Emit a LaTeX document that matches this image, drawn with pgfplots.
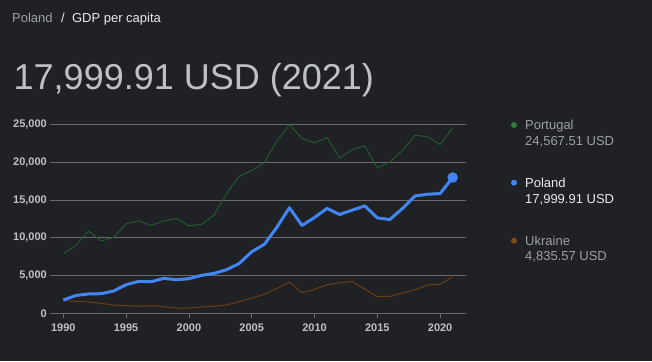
\documentclass[border=0pt]{standalone}
\usepackage{pgfplots}
\pgfplotsset{compat=1.18}
\usepackage{fontspec}
\setmainfont{Liberation Sans}
\definecolor{bg}{HTML}{202124}
\definecolor{gridc}{HTML}{6A6B6E}
\definecolor{tickc}{HTML}{BDC1C6}
\definecolor{dimtxt}{HTML}{9AA0A6}
\definecolor{brighttxt}{HTML}{E8EAED}
\definecolor{ptline}{HTML}{1F5A30}
\definecolor{ptdot}{HTML}{2E7D3F}
\definecolor{plline}{HTML}{4285F4}
\definecolor{ualine}{HTML}{6B3D14}
\definecolor{uadot}{HTML}{7F4A1C}
\begin{document}
\begin{tikzpicture}[x=1pt,y=1pt]
\fill[bg] (0,0) rectangle (652,361);
% header
\node[anchor=base west, inner sep=0pt, font=\fontsize{13}{15}\selectfont, text=dimtxt] at (12,338.3) {Poland};
\node[anchor=base west, inner sep=0pt, font=\fontsize{13}{15}\selectfont, text=brighttxt] at (61,338.3) {/\ \ GDP per capita};
\node[anchor=base west, inner sep=0pt, font=\fontsize{36}{40}\selectfont, text=tickc] at (13.5,271.7) {17,999.91 USD (2021)};
% legend
\fill[ptdot] (514,236) circle (3);
\node[anchor=base west, inner sep=0pt, font=\fontsize{13}{15}\selectfont, text=dimtxt] at (525,231) {Portugal};
\node[anchor=base west, inner sep=0pt, font=\fontsize{13}{15}\selectfont, text=dimtxt] at (525,215.3) {24,567.51 USD};
\fill[plline] (514,178.3) circle (3);
\node[anchor=base west, inner sep=0pt, font=\fontsize{13}{15}\selectfont, text=brighttxt] at (525,173.3) {Poland};
\node[anchor=base west, inner sep=0pt, font=\fontsize{13}{15}\selectfont, text=brighttxt] at (525,157) {17,999.91 USD};
\fill[uadot] (514,120.3) circle (3);
\node[anchor=base west, inner sep=0pt, font=\fontsize{13}{15}\selectfont, text=dimtxt] at (525,115) {Ukraine};
\node[anchor=base west, inner sep=0pt, font=\fontsize{13}{15}\selectfont, text=dimtxt] at (525,100) {4,835.57 USD};
\begin{axis}[
  at={(50pt,47.7pt)}, anchor=south west,
  scale only axis, width=416pt, height=188.6pt,
  xmin=1988.94, xmax=2022.06, ymin=0, ymax=25000,
  clip=false,
  axis x line*=bottom, axis y line*=left,
  x axis line style={draw=gridc, line width=0.8pt, -},
  y axis line style={draw=none},
  xtick={1990,1995,...,2020},
  ytick={0,5000,...,25000},
  ymajorgrids, grid style={draw=gridc, line width=0.8pt},
  xtick align=outside, major tick length=5pt,
  x tick style={draw=gridc, line width=0.8pt},
  y tick style={draw=none},
  /pgf/number format/assume math mode=true,
  xticklabel style={/pgf/number format/1000 sep=, font=\fontsize{11}{13}\selectfont\bfseries, text=tickc, yshift=-1.5pt},
  yticklabel style={/pgf/number format/1000 sep={,}, font=\fontsize{11}{13}\selectfont\bfseries, text=tickc, inner xsep=0pt, xshift=-3pt},
  scaled y ticks=false,
]
\addplot[ptline, line width=1pt] coordinates {
(1990,7900)(1991,9000)(1992,10900)(1993,9600)(1994,10050)(1995,11860)(1996,12260)(1997,11640)(1998,12260)(1999,12570)
(2000,11600)(2001,11770)(2002,13000)(2003,15870)(2004,18170)(2005,18900)(2006,19970)(2007,22800)(2008,25000)(2009,23200)
(2010,22600)(2011,23300)(2012,20600)(2013,21700)(2014,22200)(2015,19300)(2016,20060)(2017,21560)(2018,23600)(2019,23400)
(2020,22350)(2021,24567.51)};
\addplot[ualine, line width=1pt] coordinates {
(1990,1680)(1991,1590)(1992,1500)(1993,1320)(1994,1100)(1995,1010)(1996,930)(1997,1010)(1998,880)(1999,700)
(2000,700)(2001,840)(2002,930)(2003,1100)(2004,1540)(2005,2030)(2006,2500)(2007,3300)(2008,4140)(2009,2730)
(2010,3170)(2011,3790)(2012,4060)(2013,4230)(2014,3200)(2015,2200)(2016,2250)(2017,2690)(2018,3130)(2019,3750)
(2020,3840)(2021,4835.57)};
\addplot[plline, line width=3pt, line join=round] coordinates {
(1990,1760)(1991,2360)(1992,2560)(1993,2600)(1994,2950)(1995,3790)(1996,4230)(1997,4190)(1998,4630)(1999,4450)
(2000,4590)(2001,5030)(2002,5290)(2003,5780)(2004,6600)(2005,8160)(2006,9130)(2007,11400)(2008,14000)(2009,11640)
(2010,12700)(2011,13900)(2012,13100)(2013,13670)(2014,14240)(2015,12650)(2016,12430)(2017,13900)(2018,15560)(2019,15780)
(2020,15870)(2021,17999.91)};
\addplot[only marks, mark=*, mark size=5pt, plline, mark options={draw=plline, fill=plline}] coordinates {(2021,17999.91)};
\end{axis}
\end{tikzpicture}
\end{document}
